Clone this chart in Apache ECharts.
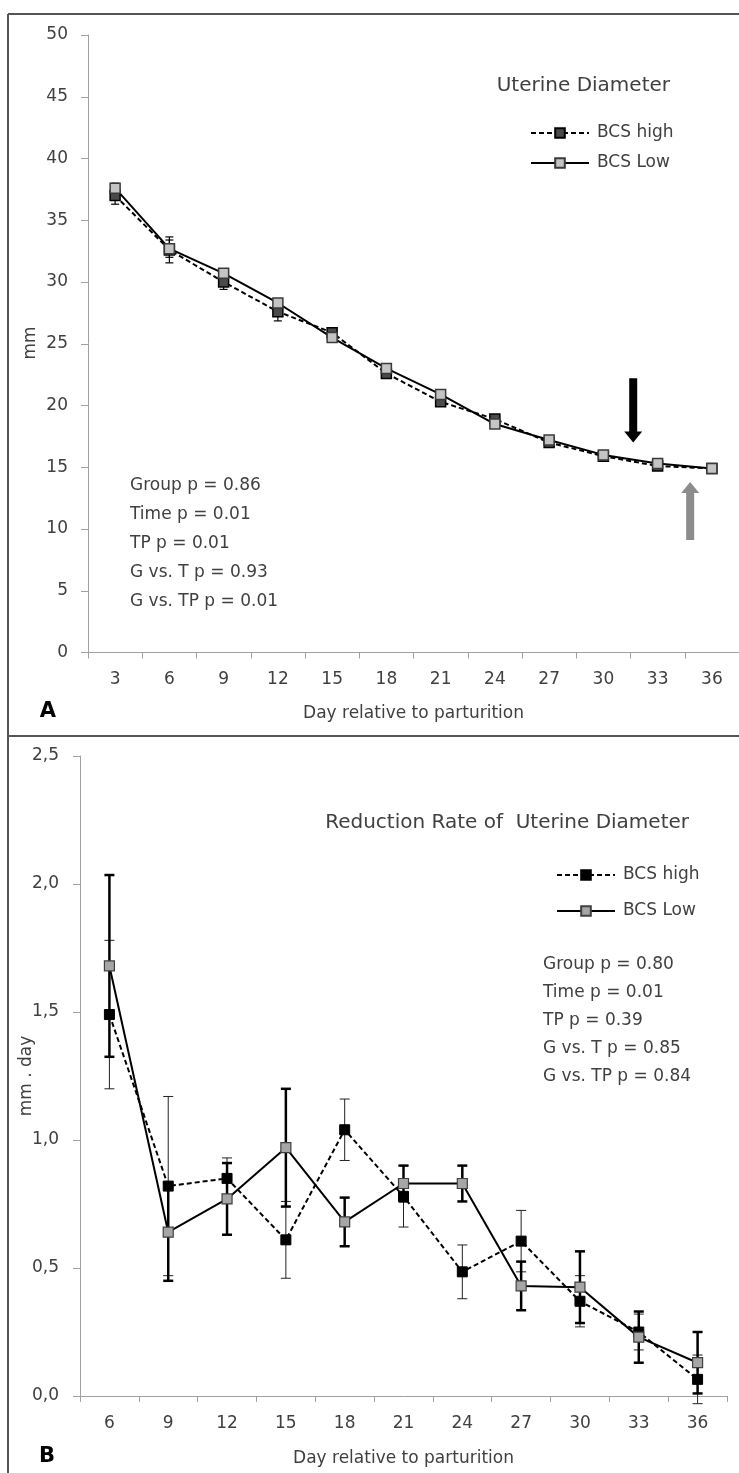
<!DOCTYPE html>
<html>
<head>
<meta charset="utf-8">
<script src="https://cdn.jsdelivr.net/npm/echarts@6/dist/echarts.min.js"></script>
<style>
  html, body { margin: 0; padding: 0; background: #fff; }
  #chart { width: 739px; height: 1473px; }
</style>
</head>
<body>
<div id="chart"></div>
<script>
// panel A: uterine diameter (mm)
const daysA = ['3', '6', '9', '12', '15', '18', '21', '24', '27', '30', '33', '36'];
const diamHigh = [37.0, 32.6, 30.0, 27.6, 25.9, 22.6, 20.3, 18.9, 17.0, 15.9, 15.1, 14.9];
const diamLow = [37.6, 32.7, 30.7, 28.3, 25.5, 23.0, 20.9, 18.5, 17.2, 16.0, 15.3, 14.9];
const diamHighErr = [0.7, 1.05, 0.6, 0.75, 0.3, 0.3, 0.3, 0.3, 0.25, 0.2, 0.2, 0.2];
const diamLowErr = [0.4, 0.7, 0.35, 0.35, 0.3, 0.3, 0.3, 0.3, 0.25, 0.2, 0.2, 0.2];
const statsA = ['Group p = 0.86', 'Time p = 0.01', 'TP p = 0.01', 'G vs. T p = 0.93', 'G vs. TP p = 0.01'];

// panel B: reduction rate (mm . day)
const daysB = ['6', '9', '12', '15', '18', '21', '24', '27', '30', '33', '36'];
const rateHigh = [1.49, 0.82, 0.85, 0.61, 1.04, 0.78, 0.485, 0.605, 0.37, 0.25, 0.065];
const rateLow = [1.68, 0.64, 0.77, 0.97, 0.68, 0.83, 0.83, 0.43, 0.425, 0.23, 0.13];
const rateHighErr = [0.29, 0.35, 0.08, 0.15, 0.12, 0.12, 0.105, 0.12, 0.1, 0.07, 0.095];
const rateLowErr = [0.355, 0.19, 0.14, 0.23, 0.095, 0.07, 0.07, 0.095, 0.14, 0.1, 0.12];
const statsB = ['Group p = 0.80', 'Time p = 0.01', 'TP p = 0.39', 'G vs. T p = 0.85', 'G vs. TP p = 0.84'];

const FONT = 'DejaVu Sans';
const TXT = '#404040';
const AXIS = '#a0a0a0';

function errorBar(capW, width, color) {
  return function (params, api) {
    const i = api.value(0), v = api.value(1), e = api.value(2);
    const hi = api.coord([i, v + e]);
    const lo = api.coord([i, v - e]);
    const style = { stroke: color, lineWidth: width, fill: null };
    return {
      type: 'group',
      children: [
        { type: 'line', shape: { x1: hi[0], y1: hi[1], x2: lo[0], y2: lo[1] }, style },
        { type: 'line', shape: { x1: hi[0] - capW / 2, y1: hi[1], x2: hi[0] + capW / 2, y2: hi[1] }, style },
        { type: 'line', shape: { x1: lo[0] - capW / 2, y1: lo[1], x2: lo[0] + capW / 2, y2: lo[1] }, style }
      ]
    };
  };
}

function xAxisCfg(grid, data, nameGap) {
  return {
    type: 'category', gridIndex: grid, data,
    boundaryGap: true,
    name: 'Day relative to parturition', nameLocation: 'middle', nameGap,
    nameTextStyle: { fontFamily: FONT, fontSize: 17, color: TXT },
    axisLine: { lineStyle: { color: AXIS, width: 1 } },
    axisTick: { show: true, length: 6, lineStyle: { color: AXIS } },
    axisLabel: { margin: 19, fontFamily: FONT, fontSize: 17, color: TXT },
    splitLine: { show: false }
  };
}

function yAxisCfg(grid, max, interval, margin, fmt) {
  return {
    type: 'value', gridIndex: grid, min: 0, max, interval,
    axisLine: { show: true, lineStyle: { color: AXIS, width: 1 } },
    axisTick: { show: true, length: 7, lineStyle: { color: AXIS } },
    axisLabel: { margin, fontFamily: FONT, fontSize: 17, color: TXT, formatter: fmt },
    splitLine: { show: false }
  };
}

const legendText = { fontFamily: FONT, fontSize: 17, color: TXT, lineHeight: 20, padding: [0, 0, 0, 3] };

const chart = echarts.init(document.getElementById('chart'), null, { renderer: 'canvas' });

const option = {
  animation: false,
  backgroundColor: '#fff',
  grid: [
    { left: 88, top: 35, width: 657, height: 617.5 },
    { left: 80, top: 756, width: 647, height: 640 }
  ],
  xAxis: [xAxisCfg(0, daysA, 53), xAxisCfg(1, daysB, 54)],
  yAxis: [
    yAxisCfg(0, 50, 5, 20, v => String(v)),
    yAxisCfg(1, 2.5, 0.5, 21, v => v.toFixed(1).replace('.', ','))
  ],
  legend: [
    {
      orient: 'vertical', left: 525, top: 118, itemWidth: 58, itemHeight: 12, itemGap: 10,
      data: ['A|BCS high', 'A|BCS Low'], formatter: n => n.split('|')[1], textStyle: legendText
    },
    {
      orient: 'vertical', left: 551, top: 860, itemWidth: 58, itemHeight: 12, itemGap: 16,
      data: ['B|BCS high', 'B|BCS Low'], formatter: n => n.split('|')[1], textStyle: legendText
    }
  ],
  series: [
    {
      type: 'custom', xAxisIndex: 0, yAxisIndex: 0, z: 1, silent: true,
      renderItem: errorBar(8, 1.2, '#000'), encode: { x: 0, y: 1 },
      data: daysA.map((d, i) => [i, diamHigh[i], diamHighErr[i]])
    },
    {
      type: 'custom', xAxisIndex: 0, yAxisIndex: 0, z: 1, silent: true,
      renderItem: errorBar(8, 1.2, '#000'), encode: { x: 0, y: 1 },
      data: daysA.map((d, i) => [i, diamLow[i], diamLowErr[i]])
    },
    {
      name: 'A|BCS high', type: 'line', xAxisIndex: 0, yAxisIndex: 0,
      data: diamHigh, symbol: 'rect', symbolSize: 10,
      lineStyle: { color: '#000', width: 2, type: [5, 3] },
      itemStyle: { color: '#4a4a4a', borderColor: '#000', borderWidth: 1.5 }
    },
    {
      name: 'A|BCS Low', type: 'line', xAxisIndex: 0, yAxisIndex: 0,
      data: diamLow, symbol: 'rect', symbolSize: 10,
      lineStyle: { color: '#000', width: 2 },
      itemStyle: { color: '#c4c4c4', borderColor: '#3a3a3a', borderWidth: 1.5 }
    },
    {
      type: 'custom', xAxisIndex: 1, yAxisIndex: 1, z: 1, silent: true,
      renderItem: errorBar(10, 1, '#222'), encode: { x: 0, y: 1 },
      data: daysB.map((d, i) => [i, rateHigh[i], rateHighErr[i]])
    },
    {
      type: 'custom', xAxisIndex: 1, yAxisIndex: 1, z: 1, silent: true,
      renderItem: errorBar(10, 2.5, '#000'), encode: { x: 0, y: 1 },
      data: daysB.map((d, i) => [i, rateLow[i], rateLowErr[i]])
    },
    {
      name: 'B|BCS high', type: 'line', xAxisIndex: 1, yAxisIndex: 1,
      data: rateHigh, symbol: 'rect', symbolSize: 10,
      lineStyle: { color: '#000', width: 2, type: [5, 3] },
      itemStyle: { color: '#000', borderColor: '#000', borderWidth: 1 }
    },
    {
      name: 'B|BCS Low', type: 'line', xAxisIndex: 1, yAxisIndex: 1,
      data: rateLow, symbol: 'rect', symbolSize: 10,
      lineStyle: { color: '#000', width: 2 },
      itemStyle: { color: '#a6a6a6', borderColor: '#404040', borderWidth: 1.2 }
    }
  ]
};

chart.setOption(option);

// annotations: borders, titles, stats, arrows
const px = (cat, val) => chart.convertToPixel({ xAxisIndex: 0, yAxisIndex: 0 }, [cat, val]);

function arrow(x, yFrom, yTo, color) {
  const dir = yTo > yFrom ? 1 : -1;
  const headLen = 11, sw = 4, hw = 9;
  const yb = yTo - dir * headLen;
  return {
    type: 'polygon', silent: true,
    shape: { points: [[x - sw, yFrom], [x + sw, yFrom], [x + sw, yb], [x + hw, yb], [x, yTo], [x - hw, yb], [x - sw, yb]] },
    style: { fill: color }
  };
}

const x30 = px(9, 0)[0], x33 = px(10, 0)[0], x36 = px(11, 0)[0];
const blackX = x30 + 0.55 * (x33 - x30);
const grayX = x33 + 0.6 * (x36 - x33);

const textStyle = (extra) => Object.assign({ fontFamily: FONT, fontSize: 17, fill: TXT }, extra);

const graphic = [
  { type: 'line', silent: true, shape: { x1: 8, y1: 14, x2: 8, y2: 1473 }, style: { stroke: '#555', lineWidth: 2 } },
  { type: 'line', silent: true, shape: { x1: 8, y1: 14, x2: 739, y2: 14 }, style: { stroke: '#555', lineWidth: 2 } },
  { type: 'line', silent: true, shape: { x1: 8, y1: 736, x2: 739, y2: 736 }, style: { stroke: '#555', lineWidth: 2 } },
  { type: 'text', silent: true, x: 670, y: 86, style: textStyle({ text: 'Uterine Diameter', fontSize: 20, align: 'right', verticalAlign: 'middle' }) },
  { type: 'text', silent: true, x: 689, y: 823, style: textStyle({ text: 'Reduction Rate of  Uterine Diameter', fontSize: 20, align: 'right', verticalAlign: 'middle' }) },
  { type: 'text', silent: true, x: 48, y: 712, style: textStyle({ text: 'A', fontSize: 21, fontWeight: 'bold', fill: '#000', align: 'center', verticalAlign: 'middle' }) },
  { type: 'text', silent: true, x: 47, y: 1457, style: textStyle({ text: 'B', fontSize: 21, fontWeight: 'bold', fill: '#000', align: 'center', verticalAlign: 'middle' }) },
  { type: 'text', silent: true, x: 31, y: 343, rotation: Math.PI / 2, style: textStyle({ text: 'mm', align: 'center', verticalAlign: 'middle' }) },
  { type: 'text', silent: true, x: 27, y: 1076, rotation: Math.PI / 2, style: textStyle({ text: 'mm . day', align: 'center', verticalAlign: 'middle' }) },
  arrow(blackX, px(0, 22.2)[1], px(0, 17.0)[1], '#000'),
  arrow(grayX, px(0, 9.1)[1], px(0, 13.8)[1], '#8c8c8c')
];
statsA.forEach((s, i) => graphic.push({ type: 'text', silent: true, x: 130, y: 486 + i * 29, style: textStyle({ text: s, verticalAlign: 'middle' }) }));
statsB.forEach((s, i) => graphic.push({ type: 'text', silent: true, x: 543, y: 965 + i * 28, style: textStyle({ text: s, verticalAlign: 'middle' }) }));

chart.setOption({ graphic });
</script>
</body>
</html>
